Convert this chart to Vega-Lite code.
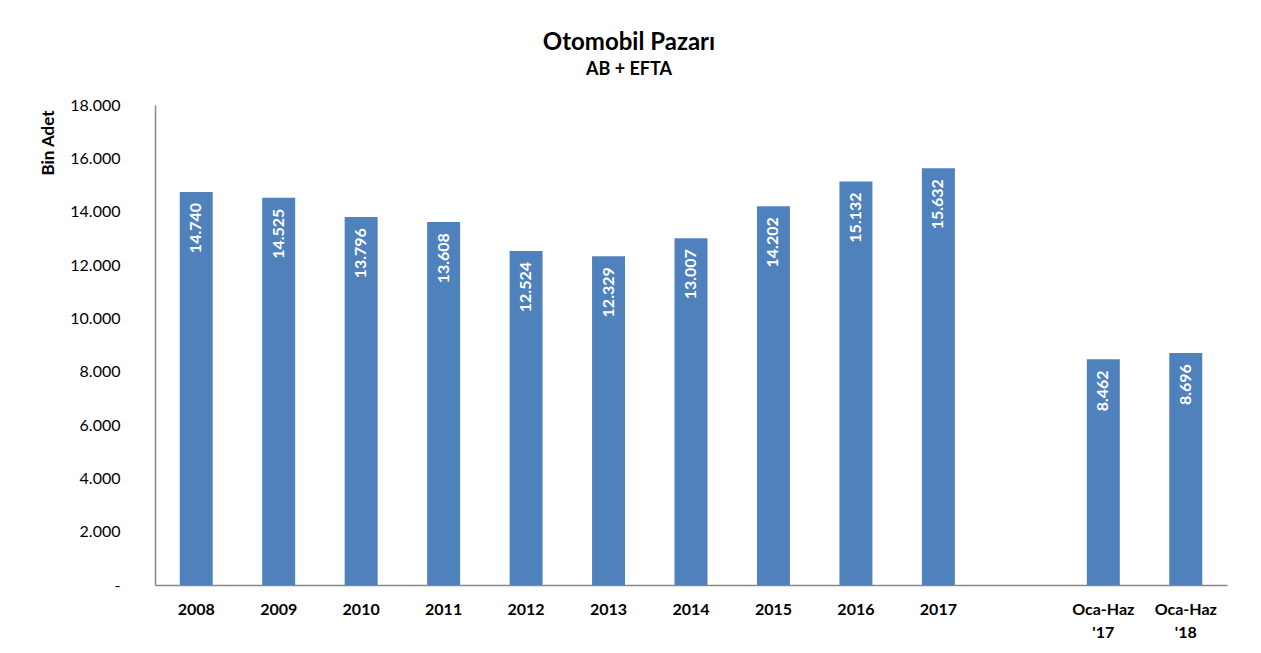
{
  "$schema": "https://vega.github.io/schema/vega-lite/v6.json",
  "autosize": "none",
  "width": 1072,
  "height": 480,
  "padding": {"left": 155, "top": 105, "right": 34, "bottom": 68},
  "background": "white",
  "config": {
    "font": "Lato",
    "view": {"stroke": null},
    "locale": {"number": {"decimal": ",", "thousands": ".", "grouping": [3], "currency": ["", ""]}}
  },
  "title": {
    "text": "Otomobil Pazarı",
    "subtitle": "AB + EFTA",
    "anchor": "middle",
    "dx": -62,
    "fontSize": 24,
    "fontWeight": "bold",
    "color": "#000000",
    "subtitleFontSize": 18,
    "subtitleFontWeight": "bold",
    "subtitleColor": "#000000",
    "subtitlePadding": 6,
    "offset": 18
  },
  "data": {
    "values": [
      {"donem": "2008", "adet": 14740},
      {"donem": "2009", "adet": 14525},
      {"donem": "2010", "adet": 13796},
      {"donem": "2011", "adet": 13608},
      {"donem": "2012", "adet": 12524},
      {"donem": "2013", "adet": 12329},
      {"donem": "2014", "adet": 13007},
      {"donem": "2015", "adet": 14202},
      {"donem": "2016", "adet": 15132},
      {"donem": "2017", "adet": 15632},
      {"donem": "Oca-Haz '17", "adet": 8462},
      {"donem": "Oca-Haz '18", "adet": 8696}
    ]
  },
  "encoding": {
    "x": {
      "field": "donem",
      "type": "nominal",
      "sort": null,
      "scale": {
        "domain": ["2008", "2009", "2010", "2011", "2012", "2013", "2014", "2015", "2016", "2017", "bos", "Oca-Haz '17", "Oca-Haz '18"],
        "paddingInner": 0.6,
        "paddingOuter": 0.3
      },
      "axis": {
        "title": null,
        "labelAngle": 0,
        "labelFontWeight": "bold",
        "labelFontSize": 16,
        "labelColor": "#000000",
        "labelPadding": 16,
        "labelLineHeight": 23,
        "labelExpr": "datum.value == 'bos' ? '' : split(datum.label, ' ')",
        "ticks": false,
        "domainColor": "#888888",
        "domainWidth": 1.5
      }
    },
    "y": {
      "field": "adet",
      "type": "quantitative",
      "scale": {"domain": [0, 18000], "nice": false},
      "axis": {
        "title": "Bin Adet",
        "titleFontSize": 17,
        "titleFontWeight": "bold",
        "titleColor": "#000000",
        "titleAnchor": "end",
        "titleY": 5,
        "titlePadding": 12,
        "values": [0, 2000, 4000, 6000, 8000, 10000, 12000, 14000, 16000, 18000],
        "format": ",.0f",
        "labelExpr": "datum.value == 0 ? '-\u00a0\u00a0' : datum.label",
        "labelFontSize": 16,
        "labelColor": "#000000",
        "labelPadding": 35,
        "ticks": false,
        "grid": false,
        "domainColor": "#888888",
        "domainWidth": 1.5
      }
    }
  },
  "layer": [
    {"mark": {"type": "bar", "color": "#4F81BD"}},
    {
      "mark": {
        "type": "text",
        "angle": 270,
        "align": "right",
        "baseline": "middle",
        "dx": -11,
        "color": "white",
        "fontWeight": "bold",
        "fontSize": 16
      },
      "encoding": {
        "text": {"field": "adet", "type": "quantitative", "format": ",.0f"}
      }
    }
  ]
}
